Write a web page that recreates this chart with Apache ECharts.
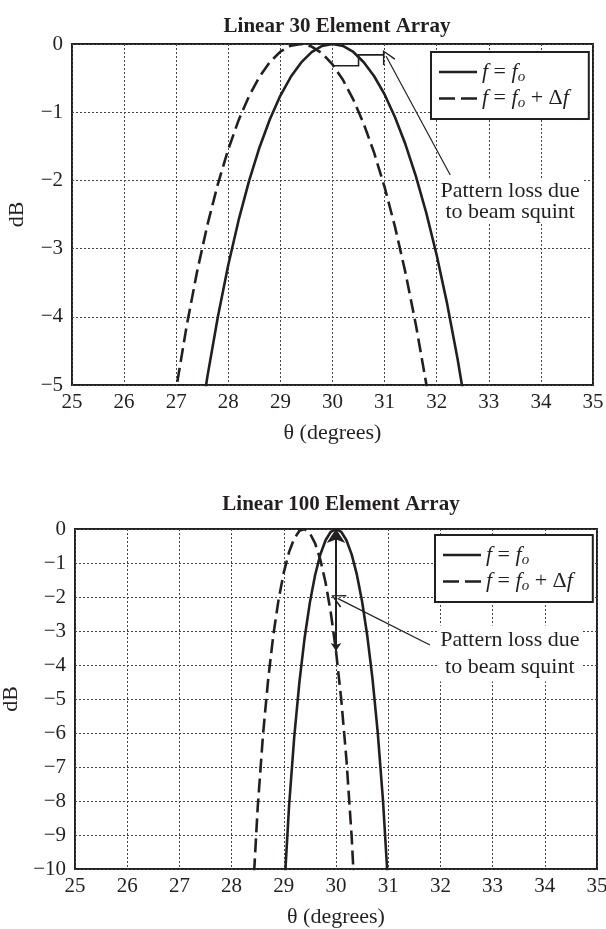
<!DOCTYPE html>
<html>
<head>
<meta charset="utf-8">
<script src="https://cdn.jsdelivr.net/npm/echarts@6/dist/echarts.min.js"></script>
<style>html,body{margin:0;padding:0;background:#fff;}#c{width:606px;height:929px;}</style>
</head>
<body>
<div id="c"></div>
<script>
// ---------- data ----------
const titles = ['Linear 30 Element Array', 'Linear 100 Element Array'];
const xTickRange = [25, 35];
const yRangeTop = [-5, 0];
const yRangeBottom = [-10, 0];

// Top chart (30 elements)
const thetaTopSolid = [27.4,27.6,27.8,28.0,28.2,28.4,28.6,28.8,29.0,29.2,29.4,29.6,29.8,30.0,30.2,30.4,30.6,30.8,31.0,31.2,31.4,31.6,31.8,32.0,32.2,32.4,32.6];
const dbTopSolid = [-5.875,-4.870,-3.998,-3.238,-2.576,-2.004,-1.513,-1.099,-0.756,-0.481,-0.270,-0.119,-0.029,0,-0.029,-0.117,-0.267,-0.473,-0.740,-1.073,-1.471,-1.938,-2.477,-3.098,-3.807,-4.614,-5.528];
const thetaTopDashed = [26.8,27.0,27.2,27.4,27.6,27.8,28.0,28.2,28.4,28.6,28.8,29.0,29.2,29.4,29.6,29.8,30.0,30.2,30.4,30.6,30.8,31.0,31.2,31.4,31.6,31.8,32.0];
const dbTopDashed = [-6.112,-5.054,-4.137,-3.341,-2.648,-2.053,-1.543,-1.113,-0.761,-0.479,-0.263,-0.112,-0.025,0,-0.038,-0.137,-0.300,-0.525,-0.816,-1.171,-1.597,-2.099,-2.682,-3.352,-4.115,-4.985,-5.976];

// Bottom chart (100 elements)
const thetaBotSolid = [28.9,29.0,29.1,29.2,29.3,29.4,29.5,29.6,29.7,29.8,29.9,30.0,30.1,30.2,30.3,30.4,30.5,30.6,30.7,30.8,30.9,31.0,31.1];
const dbBotSolid = [-14.53,-10.843,-8.167,-6.112,-4.487,-3.190,-2.158,-1.354,-0.751,-0.330,-0.082,0,-0.082,-0.330,-0.745,-1.342,-2.134,-3.148,-4.416,-5.995,-7.979,-10.532,-14.02];
const thetaBotDashed = [28.3,28.4,28.5,28.6,28.7,28.8,28.9,29.0,29.1,29.2,29.3,29.4,29.5,29.6,29.7,29.8,29.9,30.0,30.1,30.2,30.3,30.4];
const dbBotDashed = [-14.8,-10.954,-8.192,-6.083,-4.427,-3.113,-2.076,-1.275,-0.681,-0.279,-0.053,-0.004,-0.126,-0.425,-0.902,-1.574,-2.460,-3.588,-5.004,-6.782,-9.050,-12.02];

// Annotations (data coordinates)
const noteText = 'Pattern loss due\nto beam squint';
const noteTopPos = [33.41, -2.31];
const noteBotPos = [33.33, -3.66];
const arrowTop = [[32.26, -1.92], [31.03, -0.18]];
const bracketTop = [[30.0, -0.32], [30.5, -0.32], [30.5, -0.16], [31.0, -0.16]];
const arrowBot = [[31.80, -3.41], [30.03, -2.04]];
const dropBot = [[30.0, -3.59], [30.0, 0]];

// ---------- chart ----------
const ink = '#231f20';
const serif = '"Liberation Serif", "DejaVu Serif", serif';
const zip = (xs, ys) => xs.map((x, i) => [x, ys[i]]);
const minus = v => String(v).replace('-', '\u2212');
const openArrow = 'path://M5,0 L10,14 L9,14.8 L5,2.6 L1,14.8 L0,14 Z';
const iconSolid = 'path://M0,0h0.01v0.01h-0.01z M0,8.7H38V11.3H0z M0,19.99h0.01v0.01h-0.01z';
const iconDashed = 'path://M0,0h0.01v0.01h-0.01z M0,8.7H16V11.3H0z M22,8.7H38V11.3H22z M0,19.99h0.01v0.01h-0.01z';

function axesFor(gi, yr) {
  const x = {
    type: 'value', gridIndex: gi, min: xTickRange[0], max: xTickRange[1], interval: 1,
    name: '\u03b8 (degrees)', nameLocation: 'middle', nameGap: 37,
    nameTextStyle: { fontFamily: serif, fontSize: 22, color: ink },
    axisLine: { show: false, onZero: false }, axisTick: { show: false },
    axisLabel: { margin: 7, fontFamily: serif, fontSize: 21, color: ink, formatter: minus },
    splitLine: { show: true, lineStyle: { color: '#444', width: 1, type: [2, 2] } }
  };
  const y = {
    type: 'value', gridIndex: gi, min: yr[0], max: yr[1], interval: 1,
    name: 'dB', nameLocation: 'middle', nameGap: 44,
    nameTextStyle: { fontFamily: serif, fontSize: 22, color: ink },
    axisLine: { show: false, onZero: false }, axisTick: { show: false },
    axisLabel: { margin: 9, fontFamily: serif, fontSize: 21, color: ink, formatter: minus },
    splitLine: { show: true, lineStyle: { color: '#444', width: 1, type: [2, 2] } }
  };
  return [x, y];
}
const [x0, y0] = axesFor(0, yRangeTop);
const [x1, y1] = axesFor(1, yRangeBottom);

function curve(name, gi, data, dashed) {
  return {
    name, type: 'line', xAxisIndex: gi, yAxisIndex: gi, data, symbol: 'none',
    showSymbol: false, clip: true, animation: false, itemStyle: { color: ink },
    lineStyle: { color: ink, width: 2.6, type: dashed ? [14, 6] : 'solid' }, z: 3
  };
}
function note(gi, pos, lh) {
  return {
    name: 'note' + gi, type: 'scatter', xAxisIndex: gi, yAxisIndex: gi, data: [pos],
    symbolSize: 0, silent: true, animation: false, z: 6, itemStyle: { opacity: 1, color: ink },
    label: { show: true, position: 'inside', formatter: noteText, fontFamily: serif, fontSize: 22,
      lineHeight: lh, color: ink, opacity: 1, backgroundColor: '#fff', padding: [1, 3], align: 'center' }
  };
}
function seg(gi, coords, symbols, sizes, width, poly) {
  return {
    type: 'lines', coordinateSystem: 'cartesian2d', xAxisIndex: gi, yAxisIndex: gi,
    polyline: !!poly, data: [{ coords }], symbol: symbols, symbolSize: sizes,
    lineStyle: { color: ink, width, opacity: 1, curveness: 0 }, itemStyle: { color: ink },
    silent: true, animation: false, z: 5
  };
}

const legendRich = {
  i: { fontFamily: serif, fontStyle: 'italic', fontSize: 22, color: ink, lineHeight: 25 },
  r: { fontFamily: serif, fontSize: 22, color: ink, lineHeight: 25 },
  s: { fontFamily: serif, fontStyle: 'italic', fontSize: 15, color: ink, lineHeight: 25, verticalAlign: 'bottom' }
};
const legendFmt = n => n === 'solid'
  ? '{i|f}{r| = }{i|f}{s|o}'
  : '{i|f}{r| = }{i|f}{s|o}{r| + \u0394}{i|f}';
function legendAt(left, top) {
  return {
    data: [{ name: 'solid', icon: iconSolid }, { name: 'dashed', icon: iconDashed }],
    orient: 'vertical', left, top,
    backgroundColor: '#fff', borderColor: ink, borderWidth: 2, borderRadius: 0,
    padding: [9, 20, 8, 8], itemWidth: 38, itemHeight: 20, itemGap: 3,
    selectedMode: false, formatter: legendFmt,
    textStyle: { rich: legendRich, fontFamily: serif, fontSize: 22, color: ink }
  };
}

const chart = echarts.init(document.getElementById('c'), null, { renderer: 'canvas' });
chart.setOption({
  backgroundColor: '#fff',
  animation: false,
  title: [
    { text: titles[0], left: 332, top: 11, textAlign: 'center',
      textStyle: { fontFamily: serif, fontWeight: 'bold', fontSize: 21, color: ink } },
    { text: titles[1], left: 336, top: 489, textAlign: 'center',
      textStyle: { fontFamily: serif, fontWeight: 'bold', fontSize: 21, color: ink } }
  ],
  grid: [
    { left: 72, top: 44, width: 521, height: 341, show: true, borderColor: ink, borderWidth: 2,
      backgroundColor: 'transparent', outerBoundsMode: 'none', containLabel: false },
    { left: 75, top: 529, width: 522, height: 340, show: true, borderColor: ink, borderWidth: 2,
      backgroundColor: 'transparent', outerBoundsMode: 'none', containLabel: false }
  ],
  xAxis: [x0, x1],
  yAxis: [y0, y1],
  legend: [legendAt(431, 52), legendAt(435, 535)],
  series: [
    curve('solid', 0, zip(thetaTopSolid, dbTopSolid), false),
    curve('dashed', 0, zip(thetaTopDashed, dbTopDashed), true),
    curve('solid', 1, zip(thetaBotSolid, dbBotSolid), false),
    curve('dashed', 1, zip(thetaBotDashed, dbBotDashed), true),
    note(0, noteTopPos, 21),
    note(1, noteBotPos, 27),
    seg(0, arrowTop, ['none', openArrow], [10, 14], 1.2),
    seg(0, bracketTop, ['none', 'none'], 1, 1.6, true),
    seg(1, arrowBot, ['none', openArrow], [10, 14], 1.2),
    seg(1, dropBot, ['arrow', 'arrow'], [8, 14], 2)
  ]
});
</script>
</body>
</html>
